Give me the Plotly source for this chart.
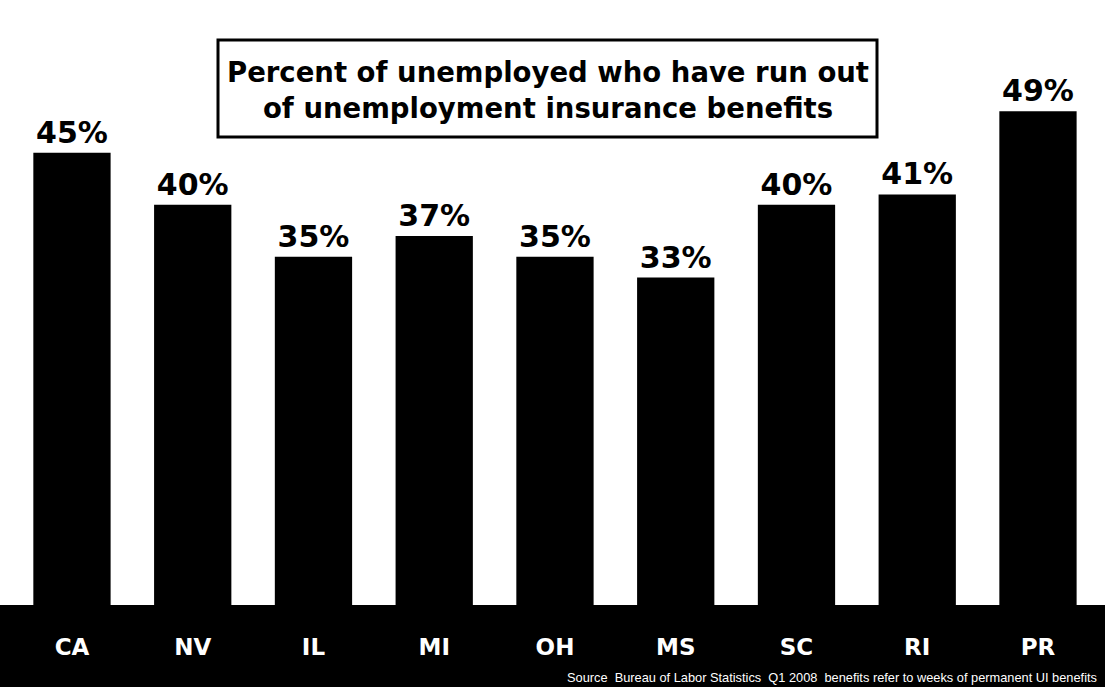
import plotly.graph_objects as go

states = ["CA", "NV", "IL", "MI", "OH", "MS", "SC", "RI", "PR"]
pct_exhausted = [45, 40, 35, 37, 35, 33, 40, 41, 49]
title_text = "Percent of unemployed who have run out<br>of unemployment insurance benefits"
source_text = "Source  Bureau of Labor Statistics  Q1 2008  benefits refer to weeks of permanent UI benefits"

W, H = 1105, 687
plot_bottom_px = 605

fig = go.Figure(go.Bar(
    x=states,
    y=pct_exhausted,
    width=0.64,
    marker=dict(color="black", line=dict(width=0)),
    text=[f"{v}%" for v in pct_exhausted],
    textposition="outside",
    textfont=dict(family="DejaVu Sans", size=30, color="black", weight="bold"),
    cliponaxis=False,
    hoverinfo="skip",
))

def py(px):
    return (plot_bottom_px - px) / plot_bottom_px

fig.add_shape(type="rect", xref="paper", yref="paper",
              x0=218 / W, x1=877 / W, y0=py(137), y1=py(40),
              line=dict(color="black", width=3), fillcolor="white", layer="above")
fig.add_annotation(xref="paper", yref="paper", x=547.5 / W, y=py(90),
                   text=title_text, showarrow=False, xanchor="center", yanchor="middle",
                   font=dict(family="DejaVu Sans", size=27.5, color="black", weight="bold"),
                   align="center")
fig.add_annotation(xref="paper", yref="paper", x=1099 / W, y=py(677),
                   text=source_text, showarrow=False, xanchor="right", yanchor="middle",
                   font=dict(family="Liberation Sans", size=12.8, color="white"))

fig.update_layout(
    width=W, height=H,
    margin=dict(l=0, r=0, t=0, b=H - plot_bottom_px, pad=0),
    paper_bgcolor="black",
    plot_bgcolor="white",
    showlegend=False,
    xaxis=dict(range=[-0.596, 8.555], showgrid=False, zeroline=False, showline=False,
               ticks="", ticklabelstandoff=26, fixedrange=True,
               tickfont=dict(family="DejaVu Sans", size=23, color="white", weight="bold")),
    yaxis=dict(range=[1.5, 59.7], visible=False, showgrid=False, zeroline=False, fixedrange=True),
)

fig.write_html("out.html",
               config={"displayModeBar": False},
               post_script="document.body.style.margin='0';document.body.style.overflow='hidden';"
                           "document.documentElement.style.overflow='hidden';")
